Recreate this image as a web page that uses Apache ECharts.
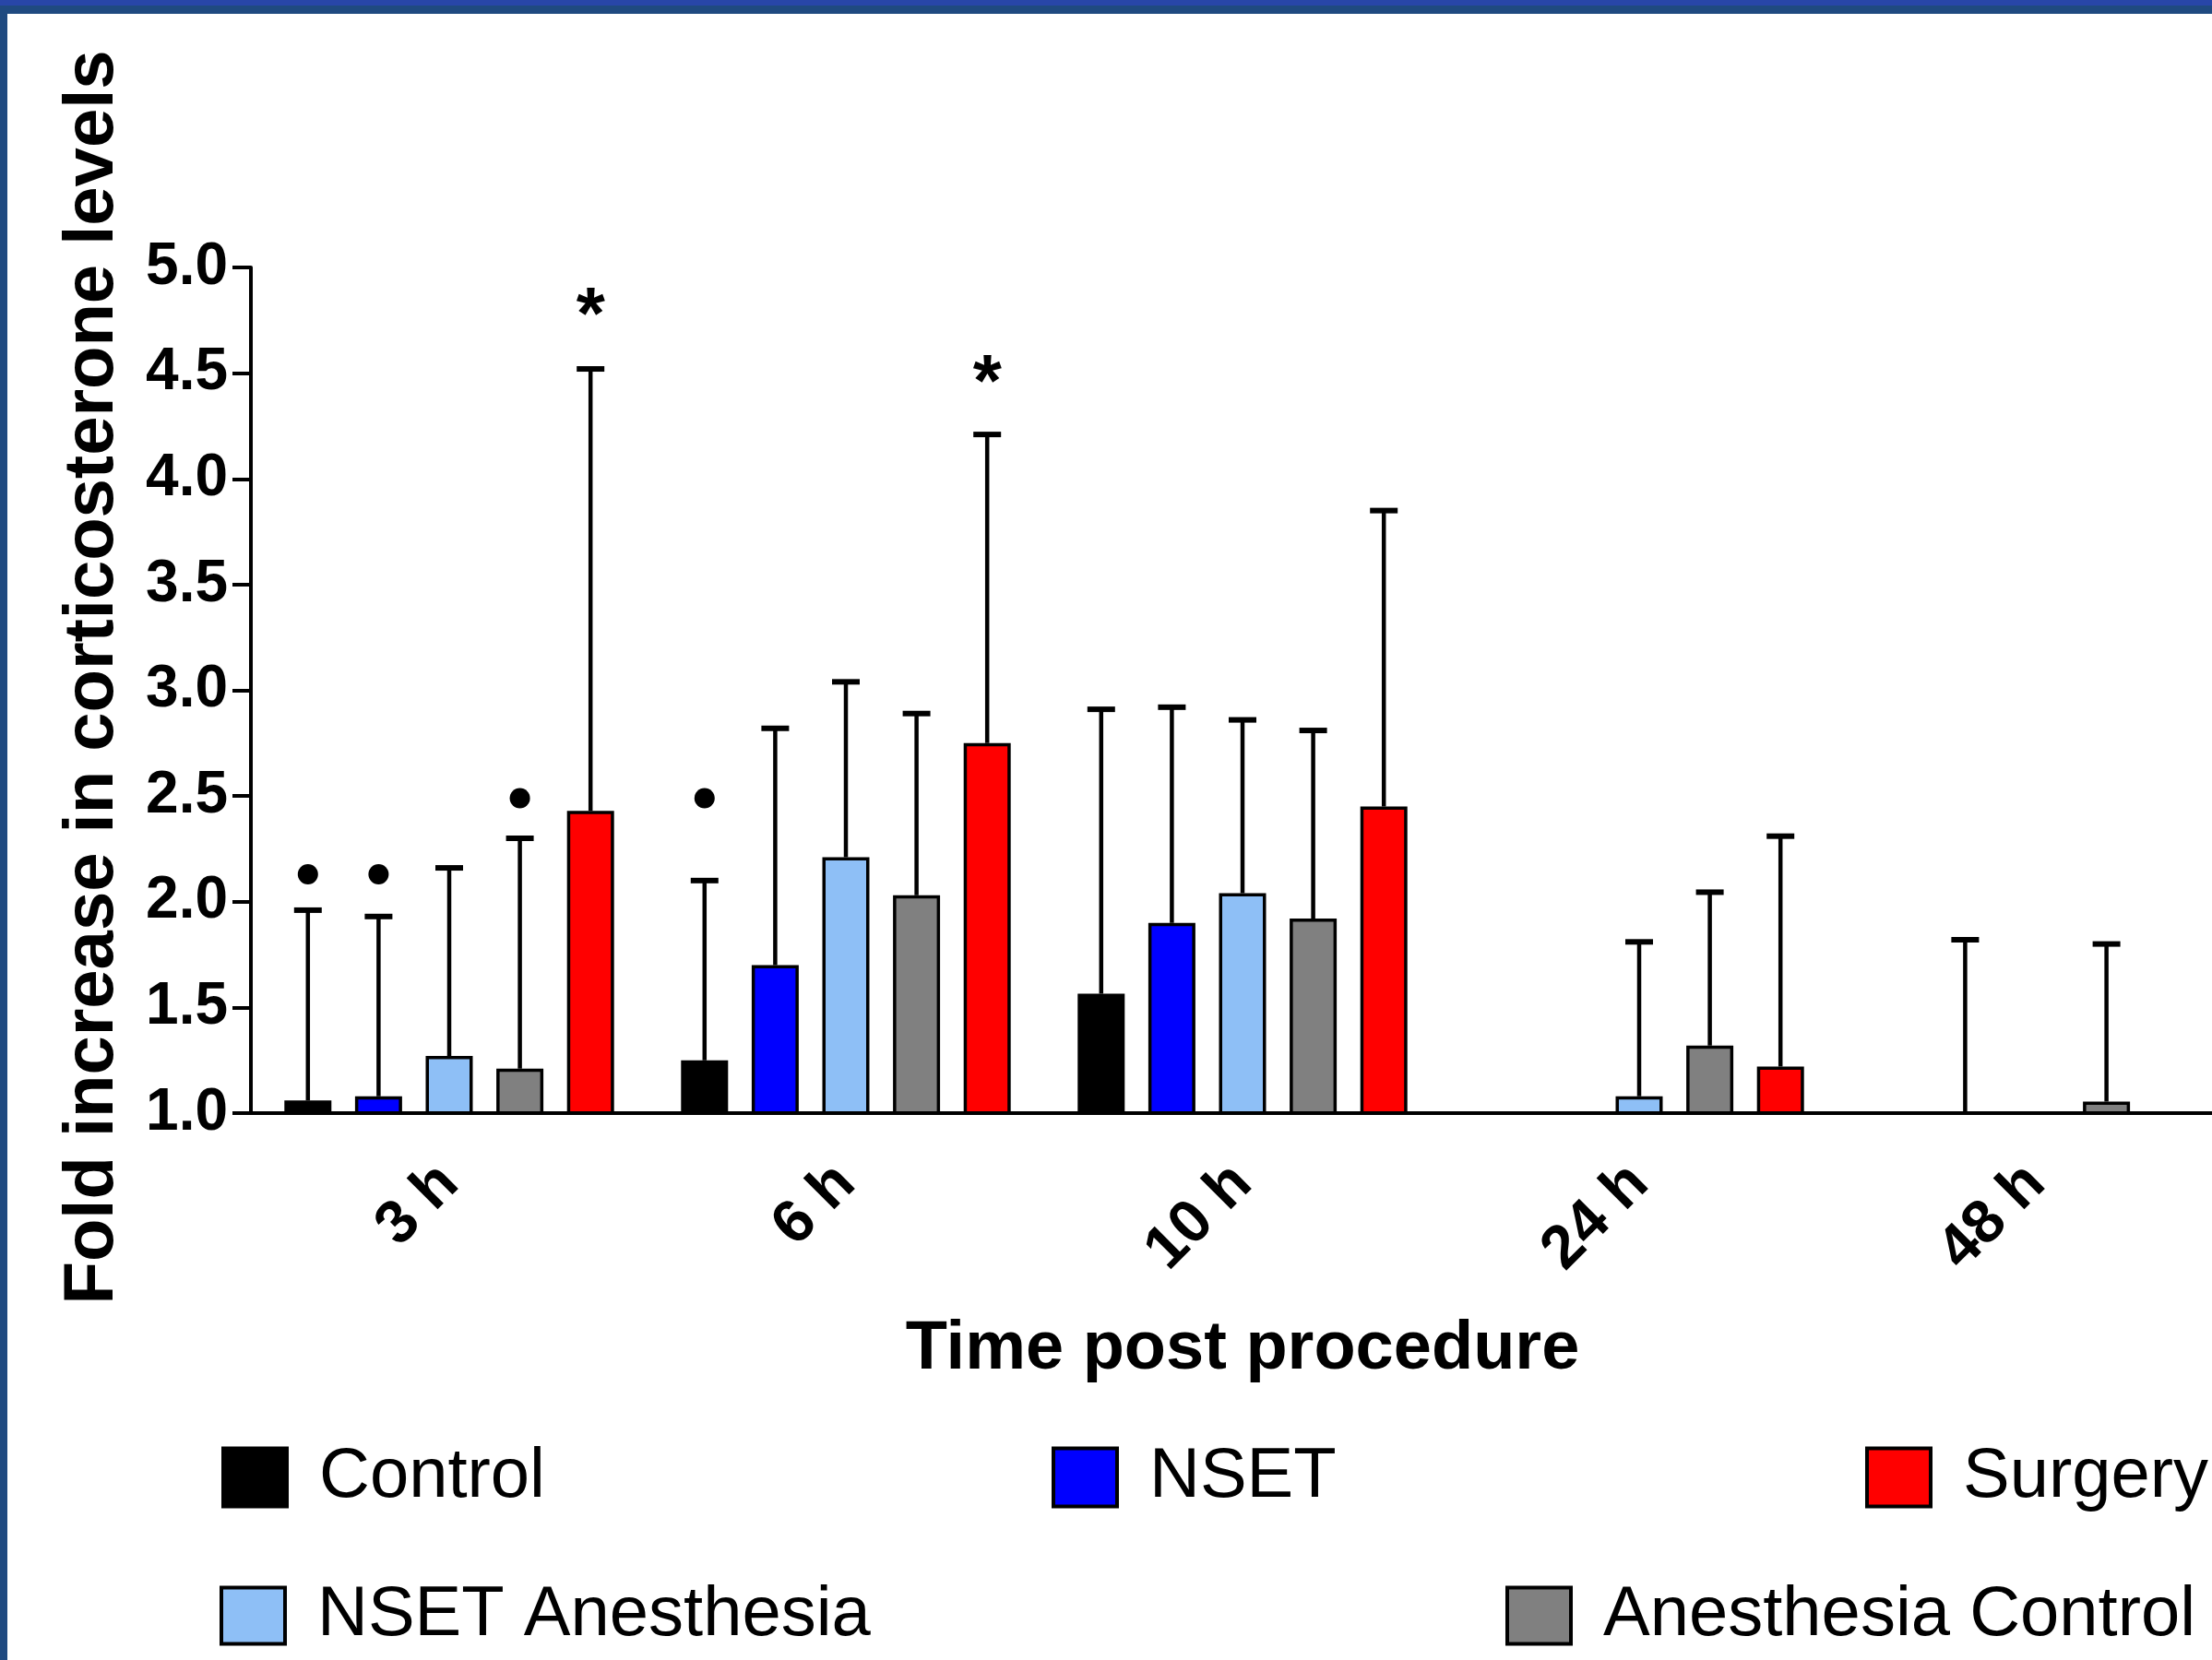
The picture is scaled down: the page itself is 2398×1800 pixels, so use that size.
<!DOCTYPE html>
<html>
<head>
<meta charset="utf-8">
<script src="https://cdn.jsdelivr.net/npm/echarts@6/dist/echarts.min.js"></script>
<style>
  html, body { margin: 0; padding: 0; background: #fff; overflow: hidden; width: 2398px; height: 1800px; }
  #chart { width: 2422px; height: 1800px; }
</style>
</head>
<body>
<div id="chart"></div>
<script>
// ---------- data ----------
const categories = ['3 h', '6 h', '10 h', '24 h', '48 h'];
const seriesNames = ['Control', 'NSET', 'NSET Anesthesia', 'Anesthesia Control', 'Surgery'];

const controlMean   = [1.06, 1.25, 1.565, 1.0, 1.0];
const controlUpper  = [1.96, 2.10, 2.91, null, null];
const nsetMean      = [1.08, 1.70, 1.90, 1.0, 1.0];
const nsetUpper     = [1.93, 2.82, 2.92, null, 1.82];
const nsetAnesMean  = [1.27, 2.21, 2.04, 1.08, 1.0];
const nsetAnesUpper = [2.16, 3.04, 2.86, 1.81, null];
const anesCtrlMean  = [1.21, 2.03, 1.92, 1.32, 1.055];
const anesCtrlUpper = [2.30, 2.89, 2.81, 2.045, 1.80];
const surgeryMean   = [2.43, 2.75, 2.45, 1.22, 1.0];
const surgeryUpper  = [4.52, 4.21, 3.85, 2.31, null];

const yTicks = [1.0, 1.5, 2.0, 2.5, 3.0, 3.5, 4.0, 4.5, 5.0];

// significance marks: category index, series index, kind, y value
const markCategory = [0, 0, 0, 1, 0, 1];
const markSeries   = [0, 1, 3, 0, 4, 4];
const markKind     = ['dot', 'dot', 'dot', 'dot', 'star', 'star'];
const markValue    = [2.13, 2.13, 2.49, 2.49, 4.84, 4.52];

// ---------- styling ----------
const colors = ['#000000', '#0000ff', '#8ebff6', '#808080', '#ff0000'];
const FONT = "'Liberation Sans', Arial, Helvetica, sans-serif";
const BAR_W = 51;
const BAR_GAP = 25.6;
const SPACING = BAR_W + BAR_GAP;

const means = [controlMean, nsetMean, nsetAnesMean, anesCtrlMean, surgeryMean];
const uppers = [controlUpper, nsetUpper, nsetAnesUpper, anesCtrlUpper, surgeryUpper];

const errorData = [];
seriesNames.forEach((n, s) => {
  categories.forEach((c, k) => {
    if (uppers[s][k] != null) errorData.push([k, s, means[s][k], uppers[s][k]]);
  });
});
const markData = markCategory.map((k, i) => [k, markSeries[i], markValue[i], markKind[i] === 'dot' ? 0 : 1]);

const barSeries = seriesNames.map((name, s) => ({
  name: name,
  type: 'bar',
  data: means[s],
  barWidth: BAR_W,
  barGap: (BAR_GAP / BAR_W * 100).toFixed(1) + '%',
  itemStyle: { color: colors[s], borderColor: '#000', borderWidth: 3.5 },
  emphasis: { disabled: true },
  z: 2
}));

const legendCommon = {
  padding: 0,
  icon: 'rect',
  selectedMode: false,
  itemWidth: 69,
  itemHeight: 63,
  itemStyle: { borderColor: '#000', borderWidth: 4 },
  textStyle: { fontSize: 76, color: '#000', fontFamily: FONT, lineHeight: 76, padding: [6, 0, 0, 30] }
};
function lg(name, left, top, ih) {
  return Object.assign({}, legendCommon, { data: [name], left: left, top: top, itemHeight: ih || 63 });
}

const chart = echarts.init(document.getElementById('chart'), null, { renderer: 'canvas' });
chart.setOption({
  backgroundColor: '#ffffff',
  animation: false,
  color: colors,
  graphic: [
    { type: 'rect', shape: { x: 0, y: 0, width: 2422, height: 15 }, style: { fill: '#1f4a80' }, z: 100 },
    { type: 'rect', shape: { x: 0, y: 0, width: 2422, height: 6 }, style: { fill: '#2846a8' }, z: 101 },
    { type: 'rect', shape: { x: 0, y: 0, width: 8, height: 1800 }, style: { fill: '#1f4a80' }, z: 100 }
  ],
  grid: { left: 272, top: 290, width: 2150, height: 917 },
  legend: [
    lg('Control', 240, 1561),
    lg('NSET', 1140, 1561),
    lg('Surgery', 2022, 1561),
    lg('NSET Anesthesia', 238, 1711, 61),
    lg('Anesthesia Control', 1632, 1711, 61)
  ],
  xAxis: {
    type: 'category',
    data: categories,
    z: 10,
    name: 'Time post procedure',
    nameLocation: 'middle',
    nameGap: 220,
    nameTextStyle: { fontSize: 74, fontWeight: 'bold', color: '#000', fontFamily: FONT, lineHeight: 74 },
    axisLine: { lineStyle: { color: '#000', width: 4 } },
    axisTick: { alignWithLabel: true, length: 20, lineStyle: { color: '#000', width: 4 } },
    axisLabel: { rotate: 45, margin: 66, fontSize: 66, fontWeight: 'bold', color: '#000', fontFamily: FONT, interval: 0 },
    splitLine: { show: false }
  },
  yAxis: {
    type: 'value',
    min: yTicks[0],
    max: yTicks[yTicks.length - 1],
    interval: 0.5,
    z: 10,
    name: 'Fold increase in corticosterone levels',
    nameLocation: 'middle',
    nameRotate: 90,
    nameGap: 133,
    nameTextStyle: { fontSize: 76, fontWeight: 'bold', color: '#000', fontFamily: FONT, lineHeight: 76, padding: [0, 0, 0, 28] },
    axisLine: { show: true, lineStyle: { color: '#000', width: 4 } },
    axisTick: { show: true, length: 20, lineStyle: { color: '#000', width: 4 } },
    axisLabel: { margin: 25, fontSize: 64, fontWeight: 'bold', color: '#000', fontFamily: FONT,
                 formatter: v => v.toFixed(1) },
    splitLine: { show: false }
  },
  series: barSeries.concat([
    {
      name: 'errors',
      type: 'custom',
      z: 5,
      data: errorData,
      encode: { x: 0, y: [2, 3] },
      renderItem: function (params, api) {
        const k = api.value(0), s = api.value(1), m = api.value(2), u = api.value(3);
        const b = api.coord([k, m]);
        const t = api.coord([k, u]);
        const x = b[0] + (s - 2) * SPACING;
        return {
          type: 'group',
          children: [
            { type: 'line', shape: { x1: x, y1: b[1], x2: x, y2: t[1] }, style: { stroke: '#000', lineWidth: 4.5 } },
            { type: 'line', shape: { x1: x - 15, y1: t[1], x2: x + 15, y2: t[1] }, style: { stroke: '#000', lineWidth: 6 } }
          ]
        };
      }
    },
    {
      name: 'marks',
      type: 'custom',
      z: 5,
      data: markData,
      encode: { x: 0, y: 2 },
      renderItem: function (params, api) {
        const k = api.value(0), s = api.value(1), v = api.value(2), kind = api.value(3);
        const p = api.coord([k, v]);
        const x = p[0] + (s - 2) * SPACING;
        if (kind === 0) {
          return { type: 'circle', shape: { cx: x, cy: p[1], r: 11 }, style: { fill: '#000' } };
        }
        return {
          type: 'text',
          style: { text: '*', x: x, y: p[1] + 18, fill: '#000', align: 'center', verticalAlign: 'middle',
                   font: "bold 80px " + FONT }
        };
      }
    }
  ])
});
</script>
</body>
</html>
